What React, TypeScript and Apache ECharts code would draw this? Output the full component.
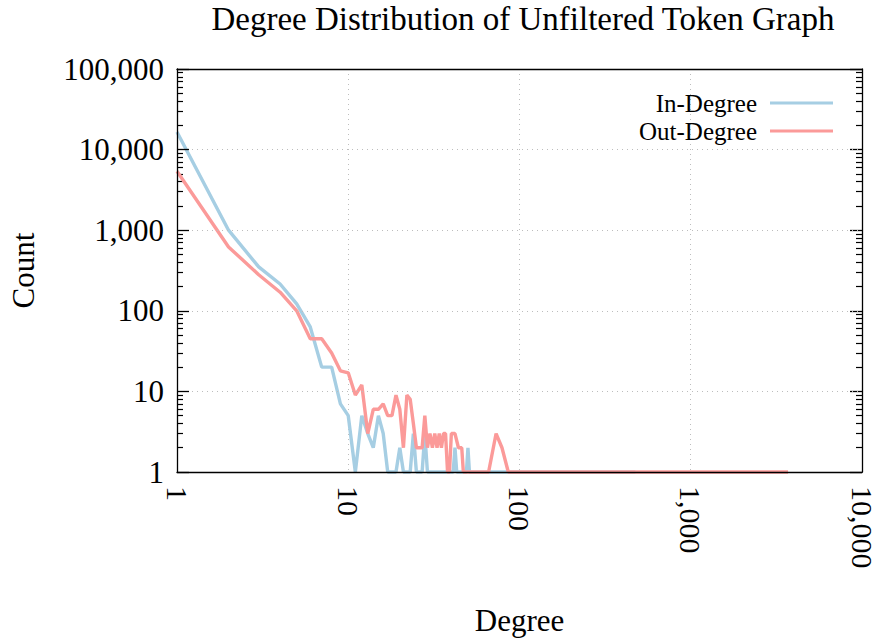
import React, { useEffect, useRef } from "react";
import * as echarts from "echarts";

const inDegrees = [1, 2, 3, 4, 5, 6, 7, 8, 9, 10, 11, 12, 13, 14, 15, 16, 17, 18, 19, 20, 21, 22, 23, 24, 25, 26, 27, 28, 29, 32, 36, 40, 41, 42, 43, 46, 49, 50, 51, 60, 80, 120, 200, 320, 475];
const inCounts = [16500, 1000, 350, 215, 122, 63, 20, 20, 7, 5, 1, 5, 3, 2, 5, 3, 1, 1, 1, 2, 1, 1, 1, 3, 1, 1, 1, 3, 1, 1, 1, 1, 1, 2, 1, 1, 1, 2, 1, 1, 1, 1, 1, 1, 1];

const outDegrees = [1, 2, 3, 4, 5, 6, 7, 8, 9, 10, 11, 12, 13, 14, 15, 16, 17, 18, 19, 20, 21, 22, 23, 24, 25, 26, 27, 28, 29, 30, 31, 32, 33, 34, 35, 36, 37, 38, 39, 40, 42, 44, 46, 47, 55, 66, 73, 79, 86, 100, 150, 220, 313, 475, 700, 1000, 1700, 3700];
const outCounts = [5400, 620, 280, 170, 100, 45, 45, 30, 18, 17, 9, 12, 3, 6, 6, 7, 5, 5, 9, 6, 2, 9, 8, 4, 2, 2, 2, 5, 2, 3, 2, 3, 2, 3, 2, 3, 3, 1, 1, 3, 3, 2, 2, 1, 1, 1, 3, 2, 1, 1, 1, 1, 1, 1, 1, 1, 1, 1];

const xTicks = [1, 10, 100, 1000, 10000];
const yTicks = [1, 10, 100, 1000, 10000, 100000];
const yMinorTicks: number[] = [];
for (let k = 0; k < 5; k++) {
  for (let m = 2; m <= 9; m++) yMinorTicks.push(m * Math.pow(10, k));
}

const FONT = "Liberation Serif";
const fmt = (v: number) => Math.round(v).toLocaleString("en-US");

export default function App() {
  const ref = useRef<HTMLDivElement>(null);
  useEffect(() => {
    document.body.style.margin = "0";
    const chart = echarts.init(ref.current!, null, { renderer: "svg" });
    const axisLine = { show: true, lineStyle: { color: "#000", width: 1.3 } };
    const grid = { type: [1, 4] as any, color: "#bdbdbd", width: 1 };
    chart.setOption({
      animation: false,
      backgroundColor: "#fff",
      textStyle: { fontFamily: FONT },
      title: {
        text: "Degree Distribution of Unfiltered Token Graph",
        left: 518,
        textAlign: "center",
        top: -3,
        textStyle: { fontFamily: FONT, fontSize: 33, fontWeight: "normal", color: "#000" },
      },
      legend: {
        orient: "vertical",
        right: 39,
        top: 84,
        align: "right",
        icon: "rect",
        itemWidth: 63,
        itemHeight: 3,
        itemGap: 0,
        textStyle: { fontFamily: FONT, fontSize: 25, color: "#000", lineHeight: 28, padding: [0, 8, 0, 0] },
        data: ["In-Degree", "Out-Degree"],
      },
      grid: { left: 173, right: 15, top: 69, bottom: 167, containLabel: false },
      xAxis: [
        {
          type: "log",
          logBase: 10,
          min: 1,
          max: 10000,
          position: "bottom",
          z: 5,
          axisLine,
          axisTick: { show: false },
          axisLabel: {
            customValues: xTicks,
            rotate: -90,
            margin: 14,
            fontFamily: FONT,
            fontSize: 30,
            color: "#000",
            formatter: (v: number) => fmt(v),
          },
          splitLine: { show: false },
          name: "Degree",
          nameLocation: "middle",
          nameGap: 133,
          nameTextStyle: { fontFamily: FONT, fontSize: 31, color: "#000" },
        },
        {
          type: "log",
          logBase: 10,
          min: 1,
          max: 10000,
          position: "top",
          z: 0,
          axisLine,
          axisTick: { show: false },
          axisLabel: { show: false },
          splitLine: { show: true, showMinLine: false, showMaxLine: false, lineStyle: grid },
        },
      ],
      yAxis: [
        {
          type: "log",
          logBase: 10,
          min: 1,
          max: 100000,
          position: "left",
          z: 5,
          axisLine,
          axisTick: { show: true, inside: true, length: 12, customValues: yTicks, lineStyle: { color: "#000", width: 1.3 } },
          axisLabel: {
            customValues: yTicks,
            margin: 13,
            fontFamily: FONT,
            fontSize: 31,
            color: "#000",
            formatter: (v: number) => fmt(v),
          },
          splitLine: { show: true, showMinLine: false, showMaxLine: false, lineStyle: grid },
          name: "Count",
          nameLocation: "middle",
          nameGap: 138,
          nameTextStyle: { fontFamily: FONT, fontSize: 31, color: "#000" },
        },
        {
          type: "log",
          logBase: 10,
          min: 1,
          max: 100000,
          position: "left",
          axisLine: { show: false },
          axisTick: { show: true, inside: true, length: 6, customValues: yMinorTicks, lineStyle: { color: "#000", width: 1.2 } },
          axisLabel: { show: false },
          splitLine: { show: false },
        },
        {
          type: "log",
          logBase: 10,
          min: 1,
          max: 100000,
          position: "right",
          axisLine,
          axisTick: { show: true, inside: true, length: 12, customValues: yTicks, lineStyle: { color: "#000", width: 1.3 } },
          axisLabel: { show: false },
          splitLine: { show: false },
        },
        {
          type: "log",
          logBase: 10,
          min: 1,
          max: 100000,
          position: "right",
          axisLine: { show: false },
          axisTick: { show: true, inside: true, length: 6, customValues: yMinorTicks, lineStyle: { color: "#000", width: 1.2 } },
          axisLabel: { show: false },
          splitLine: { show: false },
        },
      ],
      series: [
        {
          name: "In-Degree",
          type: "line",
          xAxisIndex: 0,
          yAxisIndex: 0,
          symbol: "none",
          clip: false,
          color: "#a6cee3",
          lineStyle: { width: 3.4, color: "#a6cee3" },
          data: inDegrees.map((d, i) => [d, inCounts[i]]),
        },
        {
          name: "Out-Degree",
          type: "line",
          xAxisIndex: 0,
          yAxisIndex: 0,
          symbol: "none",
          clip: false,
          color: "#fb9a99",
          lineStyle: { width: 3.4, color: "#fb9a99" },
          data: outDegrees.map((d, i) => [d, outCounts[i]]),
        },
      ],
    });
    return () => chart.dispose();
  }, []);
  return <div ref={ref} style={{ width: 877, height: 641 }} />;
}
